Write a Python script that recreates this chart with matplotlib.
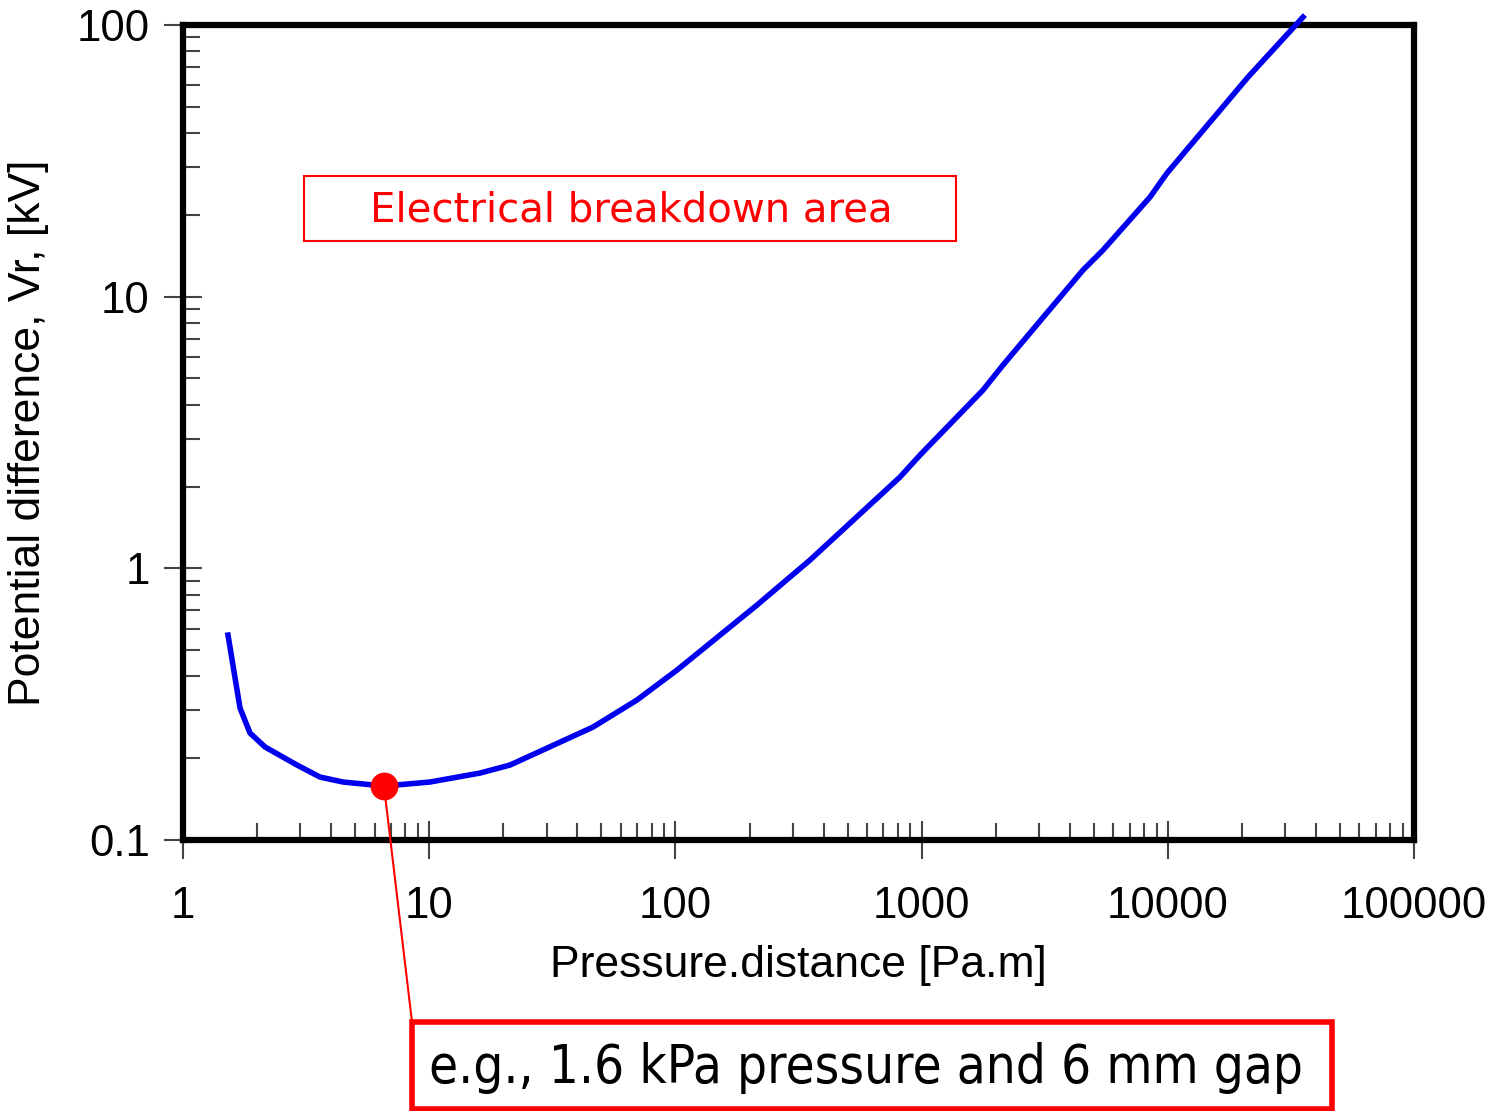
import matplotlib
matplotlib.use("Agg")
import matplotlib.pyplot as plt
import numpy as np
from matplotlib.patches import Rectangle

# Paschen-type curve
pd_values = [1.523, 1.704, 1.871, 2.154, 2.904, 3.601, 4.466, 6.55, 10.07, 16.08,
             21.29, 46.28, 69.82, 101.5, 214.5, 352.1, 817.1, 985.1, 1776, 2141,
             4524, 5455, 8468, 9926, 21170, 35410]
volts = [0.568, 0.306, 0.2476, 0.220, 0.1888, 0.1705, 0.1635, 0.158, 0.1635, 0.1764,
         0.1888, 0.2605, 0.3277, 0.4223, 0.7327, 1.073, 2.168, 2.612, 4.531, 5.603,
         12.53, 14.84, 23.26, 28.50, 64.30, 106.9]

marker_x = [6.55]
marker_y = [0.158]

x_ticks = [1, 10, 100, 1000, 10000, 100000]
x_labels = ['1', '10', '100', '1000', '10000', '100000']
y_ticks = [0.1, 1, 10, 100]
y_labels = ['0.1', '1', '10', '100']

plt.rcParams['font.family'] = ['Liberation Sans', 'DejaVu Sans']

fig = plt.figure(figsize=(14.99, 11.11), dpi=100)
ax = fig.add_axes([0.1221, 0.2439, 0.8212, 0.7336])

ax.plot(pd_values, volts, color='#0000ee', lw=4, clip_on=False, zorder=3,
        solid_joinstyle='round')
ax.plot(marker_x, marker_y, 'o', color='red', ms=19, zorder=4, clip_on=False)

ax.set_xscale('log')
ax.set_yscale('log')
ax.set_xlim(1, 100000)
ax.set_ylim(0.1, 100)

ax.set_xticks(x_ticks)
ax.set_xticklabels(x_labels)
ax.set_yticks(y_ticks)
ax.set_yticklabels(y_labels)
ax.tick_params(which='major', direction='inout', length=28, width=1.5,
               color='#444444', labelsize=31.5, pad=10)
ax.tick_params(axis='x', which='major', pad=19)
ax.tick_params(which='minor', direction='in', length=12, width=1.5,
               color='#444444')

for s in ax.spines.values():
    s.set_linewidth(4.5)

ax.set_xlabel('Pressure.distance [Pa.m]', fontsize=32, labelpad=13)
ax.set_ylabel('Potential difference, Vr, [kV]', fontsize=32, labelpad=20)

# red label box inside the plot
fig.patches.append(Rectangle((304 / 1499, 1 - 241 / 1111), 652 / 1499, 65 / 1111,
                             transform=fig.transFigure, fill=False,
                             edgecolor='red', lw=1.5))
fig.text(631 / 1499, 1 - 210 / 1111, 'Electrical breakdown area', color='red',
         fontsize=29, ha='center', va='center', family='DejaVu Sans')

# leader line and bottom box
ax.annotate('', xy=(marker_x[0], marker_y[0]), xycoords='data',
            xytext=(412 / 1499, 1 - 1022 / 1111), textcoords='figure fraction',
            arrowprops=dict(arrowstyle='-', color='red', lw=1.5,
                            shrinkA=0, shrinkB=0))
fig.patches.append(Rectangle((412 / 1499, 1 - 1109 / 1111), 920 / 1499, 87 / 1111,
                             transform=fig.transFigure, fill=False,
                             edgecolor='red', lw=4))
fig.text(866 / 1499, 1 - 1068 / 1111, 'e.g., 1.6 kPa pressure and 6 mm gap',
         color='black', fontsize=38, ha='center', va='center',
         family='DejaVu Sans', stretch='condensed')

fig.savefig('out.png', dpi=100)
